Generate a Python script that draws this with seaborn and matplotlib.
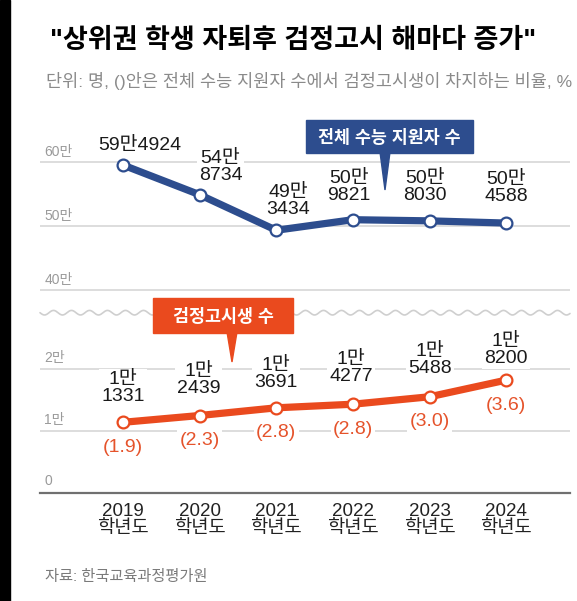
import numpy as np
import pandas as pd
import matplotlib
matplotlib.use('Agg')
import matplotlib.pyplot as plt
from matplotlib.patches import Rectangle, Polygon
import seaborn as sns

years = ['2019', '2020', '2021', '2022', '2023', '2024']
total_applicants = [594924, 548734, 493434, 509821, 508030, 504588]
total_labels = ['59만4924', '54만\n8734', '49만\n3434', '50만\n9821', '50만\n8030', '50만\n4588']
ged_applicants = [11331, 12439, 13691, 14277, 15488, 18200]
ged_labels = ['1만\n1331', '1만\n2439', '1만\n3691', '1만\n4277', '1만\n5488', '1만\n8200']
ged_share = ['(1.9)', '(2.3)', '(2.8)', '(2.8)', '(3.0)', '(3.6)']
upper_ticks = [400000, 500000, 600000]
upper_tick_labels = ['40만', '50만', '60만']
lower_ticks = [0, 10000, 20000]
lower_tick_labels = ['0', '1만', '2만']

# label offsets in pixels (dx, dy up)
total_offsets = [(17, 19), (21, 28), (12, 29), (-4, 33), (-5, 34), (0, 35)]
ged_offsets = [(0, 34), (-1, 36), (0, 34), (-2, 36), (0, 37), (0, 30)]

BLUE = '#2d4d8e'
ORANGE = '#ea4a1e'
PCT = '#e5532b'
GRID = '#dadada'

sns.set_style('white')
plt.rcParams['font.family'] = ['Liberation Sans', 'Noto Sans CJK KR']

W, H = 577, 601
fig = plt.figure(figsize=(W / 100, H / 100), dpi=100)


def px(x, y):
    return (x / W, 1 - y / H)


# broken axis: two panels
left, right = 40, 570
ax_top = fig.add_axes([left / W, 1 - 312 / H, (right - left) / W, (312 - 105) / H])
ax_bot = fig.add_axes([left / W, 1 - 493 / H, (right - left) / W, (493 - 312) / H])
for ax in (ax_top, ax_bot):
    ax.set_facecolor('none')
    ax.set_xlim(-1.08, 5.83)
    for s in ax.spines.values():
        s.set_visible(False)
    ax.grid(axis='y', color=GRID, lw=1.3)
    ax.grid(axis='x', visible=False)

ax_top.set_ylim(366300, 688200)
ax_bot.set_ylim(-160, 29270)

df_top = pd.DataFrame({'x': range(len(years)), 'y': total_applicants})
df_bot = pd.DataFrame({'x': range(len(years)), 'y': ged_applicants})

sns.lineplot(data=df_top, x='x', y='y', ax=ax_top, color=BLUE, lw=5.2,
             marker='o', markersize=8.5, markerfacecolor='white',
             markeredgecolor=BLUE, markeredgewidth=1.6, clip_on=False, zorder=4)
sns.lineplot(data=df_bot, x='x', y='y', ax=ax_bot, color=ORANGE, lw=5.2,
             marker='o', markersize=8.5, markerfacecolor='white',
             markeredgecolor=ORANGE, markeredgewidth=1.6, clip_on=False, zorder=4)

for ax in (ax_top, ax_bot):
    ax.set_xlabel('')
    ax.set_ylabel('')

ax_top.set_yticks(upper_ticks)
ax_top.set_yticklabels([])
ax_top.set_xticks([])
ax_top.tick_params(left=False, bottom=False)
for v, lab in zip(upper_ticks, upper_tick_labels):
    ax_top.annotate(lab, xy=(0.008, v), xycoords=('axes fraction', 'data'),
                    xytext=(0, 10), textcoords='offset pixels',
                    ha='left', va='center', fontsize=10, color='#9a9a9a')

ax_bot.set_yticks(lower_ticks[1:])
ax_bot.set_yticklabels([])
ax_bot.tick_params(left=False)
for v, lab in zip(lower_ticks, lower_tick_labels):
    ax_bot.annotate(lab, xy=(0.008, v), xycoords=('axes fraction', 'data'),
                    xytext=(0, 11), textcoords='offset pixels',
                    ha='left', va='center', fontsize=10, color='#9a9a9a')

ax_bot.spines['bottom'].set_visible(True)
ax_bot.spines['bottom'].set_color('#707070')
ax_bot.spines['bottom'].set_linewidth(1.6)
ax_bot.set_xticks(range(len(years)))
ax_bot.set_xticklabels([y + '\n학년도' for y in years], fontsize=13.5,
                       color='#222222', linespacing=1.05)
ax_bot.tick_params(axis='x', direction='in', length=7, width=1.3,
                   color='#707070', pad=7)

# value labels
for i, (v, lab) in enumerate(zip(total_applicants, total_labels)):
    dx, dy = total_offsets[i]
    ax_top.annotate(lab, xy=(i, v), xytext=(dx, dy), textcoords='offset pixels',
                    ha='center', va='center', fontsize=14, color='#1a1a1a',
                    linespacing=1.0, zorder=3, annotation_clip=False,
                    bbox=dict(fc='white', ec='none', pad=1.5))

for i, (v, lab) in enumerate(zip(ged_applicants, ged_labels)):
    dx, dy = ged_offsets[i]
    ax_bot.annotate(lab, xy=(i, v), xytext=(dx, dy), textcoords='offset pixels',
                    ha='center', va='center', fontsize=14, color='#1a1a1a',
                    linespacing=1.0, zorder=3, annotation_clip=False,
                    bbox=dict(fc='white', ec='none', pad=1.5))
    ax_bot.annotate(ged_share[i], xy=(i, v), xytext=(0, -25),
                    textcoords='offset pixels', ha='center', va='center',
                    fontsize=14, color=PCT, zorder=3, annotation_clip=False,
                    bbox=dict(fc='white', ec='none', pad=1.5))

# wavy break line
wx = np.linspace(left, right, 400)
wy = 312.7 + 2.3 * np.sin(2 * np.pi * (wx - left) / 18)
fig.add_artist(plt.Line2D(wx / W, 1 - wy / H, color='#cfcfcf', lw=1.2,
                          transform=fig.transFigure))

# series tags
def tag(x0, y0, x1, y1, tip, text, color):
    fig.add_artist(Rectangle(px(x0, y1), (x1 - x0) / W, (y1 - y0) / H,
                             transform=fig.transFigure, color=color, zorder=5))
    tx, ty = tip
    fig.add_artist(Polygon([px(tx - 5, y1 - 1), px(tx + 5, y1 - 1), px(tx, ty)],
                           closed=True, transform=fig.transFigure,
                           color=color, zorder=5))
    fig.text(*px((x0 + x1) / 2, (y0 + y1) / 2 + 1), text, ha='center', va='center',
             color='white', fontsize=12.5, fontweight='bold', zorder=6)


tag(306, 120, 473, 153, (385, 190), '전체 수능 지원자 수', BLUE)
tag(153, 298, 293, 333, (232, 362), '검정고시생 수', ORANGE)

# titles and notes
fig.text(*px(293, 41), '"상위권 학생 자퇴후 검정고시 해마다 증가"', ha='center',
         va='center', fontsize=19.5, fontweight='bold', color='#000000')
fig.text(*px(46, 81), '단위: 명, ()안은 전체 수능 지원자 수에서 검정고시생이 차지하는 비율, %',
         ha='left', va='center', fontsize=12.6, color='#8a8a8a')
fig.text(*px(45, 577), '자료: 한국교육과정평가원', ha='left', va='center',
         fontsize=11, color='#7a7a7a')

# dark strip on the left edge of the source image
fig.add_artist(Rectangle((0, 0), 10 / W, 1, transform=fig.transFigure,
                         color='black', zorder=7))

fig.savefig('out.png', dpi=100)
